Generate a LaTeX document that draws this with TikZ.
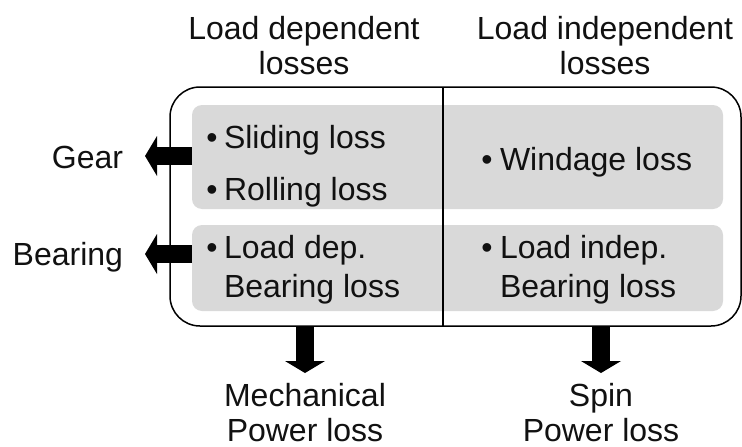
\documentclass[tikz,border=0pt]{standalone}
\usepackage{fontspec}
\setmainfont{Liberation Sans}
\usetikzlibrary{arrows.meta,calc}
\definecolor{boxgray}{HTML}{D9D9D9}
\definecolor{txt}{HTML}{111111}
\begin{document}
\begin{tikzpicture}[x=1pt,y=-1pt,
  lbl/.style={inner sep=0pt,outer sep=0pt,text=txt,font=\fontsize{32}{35}\selectfont},
  graybox/.style={rectangle,rounded corners=10pt,fill=boxgray,inner sep=0pt,outer sep=0pt},
  blockarrow/.style={line width=18pt,-{Triangle[width=40pt,length=12pt,line width=0pt]}},
]
\useasboundingbox (0,0) rectangle (742,447);
% gray bands
\node[graybox,minimum width=531pt,minimum height=104pt] (band1) at (457.5,157) {};
\node[graybox,minimum width=531pt,minimum height=86pt] (band2) at (457.5,268) {};
% outer frame
\node[draw,line width=1.5pt,rounded corners=30pt,minimum width=571pt,minimum height=239pt,inner sep=0pt,outer sep=0pt] (outer) at (455.5,206.5) {};
\coordinate (dtop) at (443,87);
\coordinate (dbot) at (443,326);
\draw[line width=1.5pt] (dtop) -- (dbot);
% headings
\node[lbl,anchor=base] (hl1) at (304,39) {Load dependent};
\node[lbl,anchor=base] (hl2) at (304,74) {losses};
\node[lbl,anchor=base] (hr1) at (605,39) {Load independent};
\node[lbl,anchor=base] (hr2) at (605,74) {losses};
% left column
\node[lbl,anchor=base] (b1) at (212,148) {•};
\node[lbl,anchor=base west] (t1) at (224,148) {Sliding loss};
\node[lbl,anchor=base] (b2) at (212,200) {•};
\node[lbl,anchor=base west] (t2) at (224,200) {Rolling loss};
\node[lbl,anchor=base] (b3) at (212,258) {•};
\node[lbl,anchor=base west] (t3) at (224,258) {Load dep.};
\node[lbl,anchor=base west] (t4) at (224,297) {Bearing loss};
% right column
\node[lbl,anchor=base] (b5) at (487,170) {•};
\node[lbl,anchor=base west] (t5) at (500,170) {Windage loss};
\node[lbl,anchor=base] (b6) at (487,258) {•};
\node[lbl,anchor=base west] (t6) at (500,258) {Load indep.};
\node[lbl,anchor=base west] (t7) at (500,297) {Bearing loss};
% side labels
\node[lbl,anchor=base east] (gear) at (123,168) {Gear};
\node[lbl,anchor=base east] (bear) at (123,265) {Bearing};
% bottom labels
\node[lbl,anchor=base] (mech1) at (305,406) {Mechanical};
\node[lbl,anchor=base] (mech2) at (305,441) {Power loss};
\node[lbl,anchor=base] (spin1) at (601,406) {Spin};
\node[lbl,anchor=base] (spin2) at (601,441) {Power loss};
% arrows
\coordinate (gtip) at (145,156);
\coordinate (btip) at (145,254);
\coordinate (mtip) at (305,373);
\coordinate (stip) at (601,373);
\draw[blockarrow] (band1.west |- gtip) -- (gtip);
\draw[blockarrow] (band2.west |- btip) -- (btip);
\draw[blockarrow] (outer.south -| mtip) -- (mtip);
\draw[blockarrow] (outer.south -| stip) -- (stip);
\end{tikzpicture}
\end{document}
